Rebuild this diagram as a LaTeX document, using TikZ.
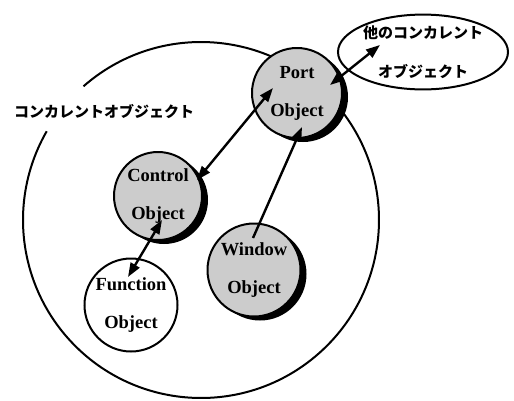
\documentclass[tikz,border=0pt]{standalone}
\usepackage{fontspec}
\setmainfont{Liberation Serif}
\newfontfamily\jpfont{Noto Sans CJK JP}
\usepackage{tikz}
\usetikzlibrary{arrows.meta,calc,shadows,shapes.geometric}
\tikzset{>={Triangle[length=14pt,width=10pt]}}
\tikzset{
  obj/.style={circle,draw,line width=2pt,inner sep=0pt,align=center,
    font=\fontsize{18.5}{38}\selectfont\bfseries},
  actobj/.style={obj,fill=black!20,
    drop shadow={shadow xshift=6pt,shadow yshift=-4pt,fill=black,opacity=1}},
  jptext/.style={font=\jpfont\bfseries\fontsize{15}{39}\selectfont},
  link/.style={line width=2.4pt},
}

\begin{document}
\begin{tikzpicture}[x=1pt,y=-1pt]
  \useasboundingbox (0,0) rectangle (514,400);
  % outer concurrent object, open where its label sits
  \draw[line width=2pt] (201,220) ++(228.7:178) arc[start angle=228.7,end angle=569.9,radius=178];
  \node[jptext] (conlabel) at (104,112) {コンカレントオブジェクト};

  \node[ellipse,draw,line width=2pt,minimum width=170pt,minimum height=66pt,
    inner sep=0pt,align=center,jptext] (other) at (423,52) {他のコンカレント\\オブジェクト};

  \node[actobj,minimum size=90pt] (port) at (297,93) {Port\\Object};
  \node[actobj,minimum size=88pt] (ctrl) at (158,196) {Control\\Object};
  \node[actobj,minimum size=93pt] (win) at (254,270) {Window\\Object};
  \node[obj,fill=white,minimum size=93pt] (func) at (131,305) {Function\\Object};

  \draw[link,<->] ($(ctrl)+(39,-16)$) -- ($(port)+(-24,-5)$);
  \draw[link,<->] ($(ctrl)+(4,24)$) -- ($(func)+(-3,-28)$);
  \draw[link,->] ($(win)+(-1,-32)$) -- ($(port)+(5,34)$);
  \draw[link,<->] ($(port)+(33,-8)$) -- ($(other)+(-43,-7)$);
\end{tikzpicture}
\end{document}
